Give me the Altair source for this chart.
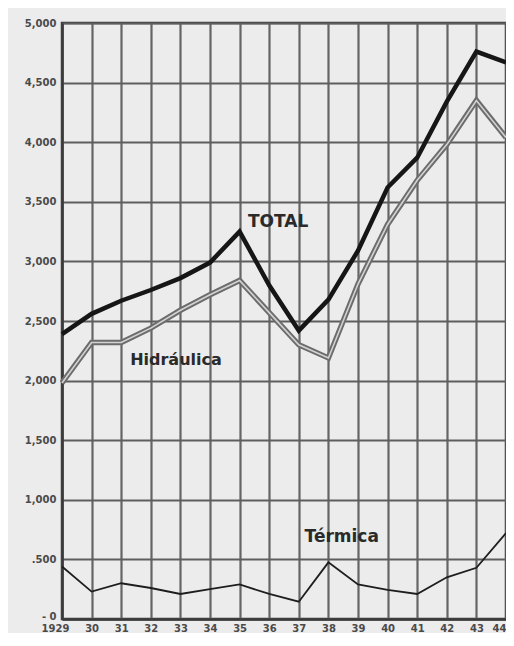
import altair as alt
import pandas as pd

# ---- data (Spanish electricity production, GWh) ----
years = list(range(1929, 1945))
total = [2390, 2560, 2670, 2760, 2860, 2990, 3250, 2800, 2420, 2680, 3090, 3620, 3870, 4340, 4760, 4670]
hidraulica = [1980, 2320, 2320, 2440, 2590, 2720, 2840, 2570, 2300, 2190, 2810, 3310, 3680, 3980, 4350, 4040]
termica = [440, 230, 300, 260, 210, 250, 290, 210, 145, 475, 290, 245, 210, 350, 430, 720]

x_labels = ["1929", "30", "31", "32", "33", "34", "35", "36", "37", "38", "39", "40", "41", "42", "43", "44"]
y_ticks = [0, 500, 1000, 1500, 2000, 2500, 3000, 3500, 4000, 4500, 5000]
y_labels = ["- 0", ".500", "1,000", "1,500", "2,000", "2,500", "3,000", "3,500", "4,000", "4,500", "5,000"]

ann_text = ["TOTAL", "Hidráulica", "Térmica"]
ann_year = [1936.3, 1932.85, 1938.45]
ann_value = [3330, 2170, 690]
ann_size = [17, 16, 17]

# ---- tables ----
df = pd.DataFrame({"year": years, "total": total, "hidraulica": hidraulica, "termica": termica})
ann = pd.DataFrame({"text": ann_text, "year": ann_year, "value": ann_value, "size": ann_size})

x_expr = "[" + ",".join("'%s'" % s for s in x_labels) + "][datum.value - 1929]"
y_expr = "[" + ",".join("'%s'" % s for s in y_labels) + "][round(datum.value / 500)]"

xscale = alt.Scale(domain=[1929, 1944], nice=False, zero=False)
yscale = alt.Scale(domain=[0, 5000], nice=False)

x_axis = alt.Axis(values=years, labelExpr=x_expr, grid=True, gridColor="#656565", gridWidth=2.2,
                  ticks=False, domain=True, domainColor="#3a3a3a", domainWidth=2.5,
                  labelFontSize=10, labelFontWeight="bold", labelColor="#4a4a4a",
                  labelPadding=4, labelFont="DejaVu Sans", title=None, labelFlush=False,
                  labelAlign=alt.condition("datum.value == 1944", alt.value("right"), alt.value("center")),
                  labelOffset=alt.condition("datum.value == 1929", alt.value(-7), alt.value(0)))
y_axis = alt.Axis(values=y_ticks, labelExpr=y_expr, grid=True, gridColor="#5e5e5e", gridWidth=2.2,
                  ticks=False, domain=True, domainColor="#3a3a3a", domainWidth=2.5,
                  labelFontSize=10, labelFontWeight="bold", labelColor="#4a4a4a",
                  labelPadding=6, labelFont="DejaVu Sans", title=None,
                  labelBaseline=alt.condition("datum.value == 0", alt.value("alphabetic"), alt.value("middle")))


def X():
    return alt.X("year:Q", scale=xscale, axis=x_axis)


def Y(field):
    return alt.Y(field + ":Q", scale=yscale, axis=y_axis)


base = alt.Chart(df)

hyd_outer = base.mark_line(color="#6c6c6c", strokeWidth=5.5).encode(x=X(), y=Y("hidraulica"))
hyd_inner = base.mark_line(color="#d2d2d2", strokeWidth=1.6).encode(x=X(), y=Y("hidraulica"))
tot = base.mark_line(color="#161616", strokeWidth=4.5).encode(x=X(), y=Y("total"))
ter = base.mark_line(color="#1e1e1e", strokeWidth=1.8).encode(x=X(), y=Y("termica"))
labels = alt.Chart(ann).mark_text(font="DejaVu Sans", fontWeight="bold", color="#2a2a2a",
                                  align="center", baseline="middle").encode(
    x=X(),
    y=Y("value"),
    text="text:N",
    size=alt.Size("size:Q", scale=None, legend=None),
)

chart = alt.layer(hyd_outer, hyd_inner, tot, ter, labels).properties(
    width=444, height=596,
    autosize=alt.AutoSizeParams(type="none"),
    padding={"left": 54, "top": 15, "right": 0, "bottom": 14},
    background="#ececec",
).configure_view(stroke="#3a3a3a", strokeWidth=2.5)

chart.save("out.html", embed_options={"renderer": "svg", "actions": False})
